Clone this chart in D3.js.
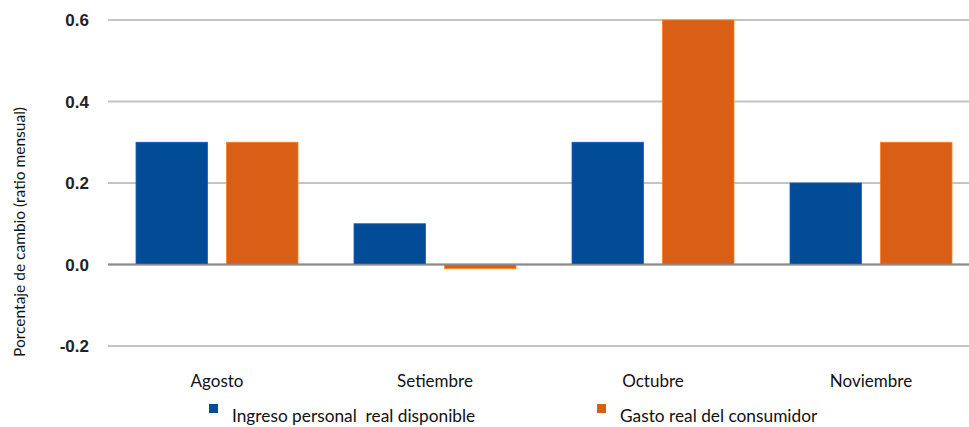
<!DOCTYPE html>
<html>
<head>
<meta charset="utf-8">
<script src="https://cdn.jsdelivr.net/npm/d3@7"></script>
<style>
  html, body { margin: 0; padding: 0; background: #fff; }
  svg { display: block; }
</style>
</head>
<body>
<svg id="chart" width="969" height="427"></svg>
<script>
// Monthly change, real disposable income vs real consumer spending
const months = ["Agosto", "Setiembre", "Octubre", "Noviembre"];
const seriesNames = ["Ingreso personal  real disponible", "Gasto real del consumidor"];
const ingreso = [0.3, 0.1, 0.3, 0.2];
const gasto = [0.3, -0.01, 0.6, 0.3];
const yTicks = [-0.2, 0.0, 0.2, 0.4, 0.6];
const colors = ["#024b96", "#d95f17"];

const svg = d3.select("#chart");
const W = 969, H = 427;

const x = d3.scaleBand().domain(months).range([108, 980]).paddingInner(0.257).paddingOuter(0.1285);
const x1 = d3.scaleBand().domain([0, 1]).range([0, x.bandwidth()]).paddingInner(0.21);
const y = d3.scaleLinear().domain([-0.2, 0.6]).range([346, 20]);
const fmt = v => d3.format(".1f")(v).replace("\u2212", "-");

// gridlines
svg.append("g").selectAll("line").data(yTicks).join("line")
  .attr("x1", 108).attr("x2", W)
  .attr("y1", d => y(d)).attr("y2", d => y(d))
  .attr("stroke", d => d === 0 ? "#8a8a8a" : "#c4c4c4")
  .attr("stroke-width", 2);

// y tick labels
svg.append("g").selectAll("text").data(yTicks).join("text")
  .attr("x", 89).attr("y", d => y(d))
  .attr("dy", "0.36em")
  .attr("text-anchor", "end")
  .attr("font-family", "Liberation Sans, Arial, sans-serif")
  .attr("font-weight", "bold")
  .attr("font-size", 17)
  .attr("fill", "#222")
  .text(fmt);

// bars
const rows = months.map((m, i) => [ingreso[i], gasto[i]]);
const groups = svg.append("g").selectAll("g").data(rows).join("g")
  .attr("transform", (d, i) => `translate(${x(months[i])},0)`);
groups.selectAll("rect").data(d => d.map((v, k) => ({ v, k }))).join("rect")
  .attr("x", d => x1(d.k))
  .attr("width", x1.bandwidth())
  .attr("y", d => y(Math.max(0, d.v)))
  .attr("height", d => Math.abs(y(d.v) - y(0)))
  .attr("fill", d => colors[d.k])
  .attr("stroke", d => d3.color(colors[d.k]).brighter(0.8))
  .attr("stroke-width", 0.8);

// redraw the zero line over the bars
svg.append("line")
  .attr("x1", 108).attr("x2", W)
  .attr("y1", y(0)).attr("y2", y(0))
  .attr("stroke", "#8a8a8a").attr("stroke-width", 1.5);

// category labels
svg.append("g").selectAll("text").data(months).join("text")
  .attr("x", d => x(d) + x.bandwidth() / 2)
  .attr("y", 387)
  .attr("text-anchor", "middle")
  .attr("font-family", "Lato, sans-serif")
  .attr("font-size", 17)
  .attr("fill", "#111")
  .text(d => d);

// y axis title
svg.append("text")
  .attr("transform", "translate(25,232) rotate(-90)")
  .attr("text-anchor", "middle")
  .attr("font-family", "Lato, sans-serif")
  .attr("font-size", 15.5)
  .attr("fill", "#111")
  .text("Porcentaje de cambio (ratio mensual)");

// legend
const legendX = [209, 597];
const legend = svg.append("g").selectAll("g").data(seriesNames).join("g")
  .attr("transform", (d, i) => `translate(${legendX[i]},404)`);
legend.append("rect").attr("width", 9).attr("height", 9).attr("fill", (d, i) => colors[i]);
legend.append("text")
  .attr("x", 23).attr("y", 18)
  .attr("font-family", "Lato, sans-serif")
  .attr("font-size", 17.3)
  .attr("fill", "#111")
  .style("white-space", "pre")
  .text(d => d);
</script>
</body>
</html>
